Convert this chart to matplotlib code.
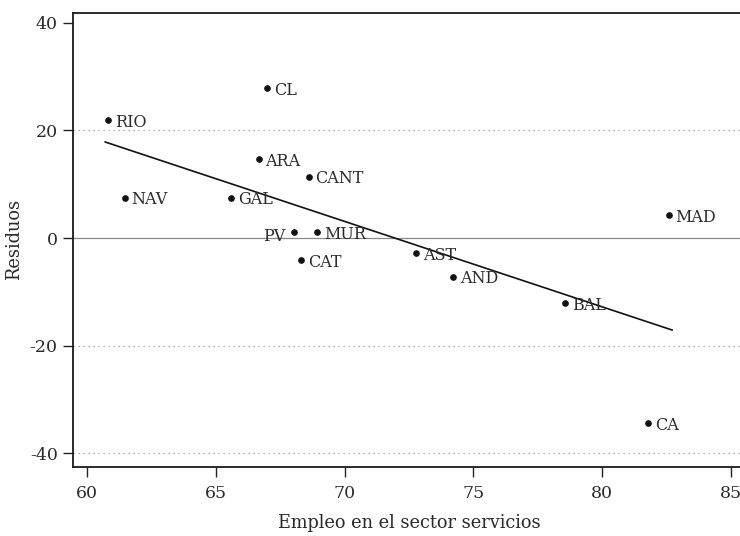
import matplotlib
matplotlib.use("Agg")
import matplotlib.pyplot as plt

# Regional data: employment share in services vs. residuals
regions = ["RIO", "NAV", "GAL", "CL", "ARA", "CANT", "PV", "MUR",
           "CAT", "AST", "AND", "BAL", "MAD", "CA"]
empleo = [60.83, 61.46, 65.59, 67.0, 66.66, 68.6, 68.04, 68.92,
          68.32, 72.76, 74.2, 78.57, 82.58, 81.77]
residuos = [21.9, 7.5, 7.5, 27.8, 14.6, 11.4, 1.06, 1.06,
            -4.1, -2.85, -7.2, -12.1, 4.27, -34.4]

# Fitted line endpoints
fit_x = [60.71, 82.71]
fit_y = [17.84, -17.1]

xticks = [60, 65, 70, 75, 80, 85]
yticks = [-40, -20, 0, 20, 40]
grid_levels = [-40, -20, 20]

plt.rcParams["font.family"] = ["DejaVu Serif"]
plt.rcParams["axes.unicode_minus"] = False
text_color = "#2a2a2a"

fig = plt.figure(figsize=(7.4, 5.36), dpi=100)
ax = fig.add_axes([73 / 740, (536 - 466.7) / 536, 672 / 740, (466.7 - 13) / 536])

ax.set_xlim(59.457, 85.54)
ax.set_ylim(-42.5, 41.82)

for g in grid_levels:
    ax.axhline(g, color="#9a9a9a", lw=0.9, ls=(0, (1, 3)), zorder=1)
ax.axhline(0, color="#8a8a8a", lw=0.9, zorder=1)

ax.plot(fit_x, fit_y, color="#111111", lw=1.2, zorder=2)
ax.plot(empleo, residuos, "o", color="#111111", ms=3.8, zorder=3)

for name, x, y in zip(regions, empleo, residuos):
    if name == "PV":
        ax.annotate(name, (x, y), xytext=(-6, -3), textcoords="offset points",
                    ha="right", va="center", fontsize=11.5, color=text_color)
    else:
        ax.annotate(name, (x, y), xytext=(5, -1.5), textcoords="offset points",
                    ha="left", va="center", fontsize=11.5, color=text_color)

ax.set_xticks(xticks)
ax.set_yticks(yticks)
ax.tick_params(direction="out", length=7, width=1.0, colors="#222222",
               labelsize=12.5, labelcolor=text_color)
ax.tick_params(axis="x", pad=6)
ax.tick_params(axis="y", pad=4)

for side in ["left", "bottom", "top"]:
    ax.spines[side].set_linewidth(1.3)
    ax.spines[side].set_color("#1a1a1a")
ax.spines["right"].set_visible(False)

ax.set_xlabel("Empleo en el sector servicios", fontsize=12.8, color=text_color, labelpad=9)
ax.set_ylabel("Residuos", fontsize=12.8, color=text_color, labelpad=5)

fig.savefig("out.png", dpi=100)
